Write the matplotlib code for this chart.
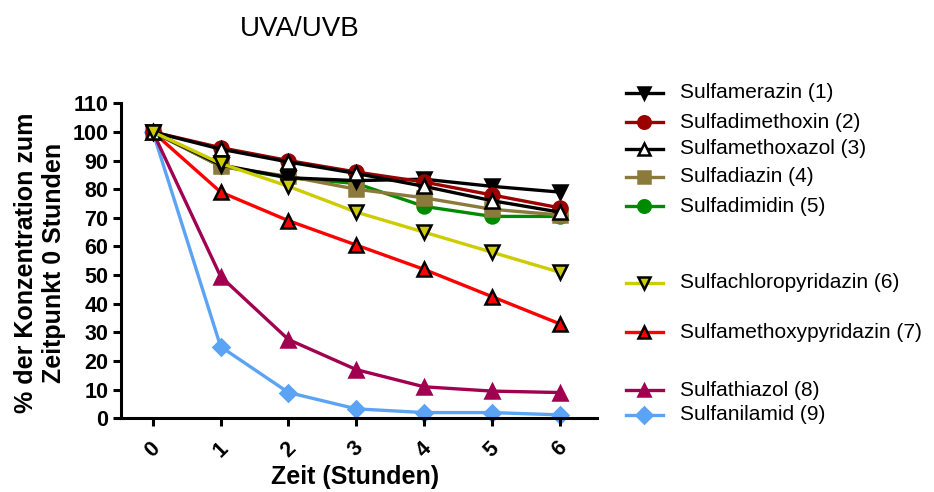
import numpy as np
import matplotlib
matplotlib.use('Agg')
import matplotlib.pyplot as plt

plt.rcParams['font.family'] = ['Liberation Sans', 'DejaVu Sans']
plt.rcParams['axes.unicode_minus'] = False

# Zeitpunkte (Stunden)
zeit = [0, 1, 2, 3, 4, 5, 6]

# % der Ausgangskonzentration je Sulfonamid
sulfamerazin = [100, 88.5, 84, 83, 83.5, 81, 79]
sulfadimethoxin = [100, 94.5, 90, 86, 82.5, 78, 73.5]
sulfamethoxazol = [100, 94, 89.5, 85.5, 81, 76, 72]
sulfadiazin = [100, 88, 84.5, 80, 77, 73, 71]
sulfadimidin = [100, 88, 84, 82, 74, 70.5, 70.5]
sulfachloropyridazin = [100, 89, 81, 72, 65, 58, 51]
sulfamethoxypyridazin = [100, 79, 69, 60.5, 52, 42.5, 33]
sulfathiazol = [100, 49.5, 27.5, 17, 11, 9.5, 9]
sulfanilamid = [100, 25, 9, 3.3, 2, 2, 1.2]

y_ticks = list(range(0, 111, 10))

# name, werte, linienfarbe, marker, füllung, rand, zorder
serien = [
    ('Sulfamerazin (1)', sulfamerazin, 'black', 'v', 'black', 'black', 6),
    ('Sulfadimethoxin (2)', sulfadimethoxin, '#9B0000', 'o', '#9B0000', '#9B0000', 7),
    ('Sulfamethoxazol (3)', sulfamethoxazol, 'black', '^', 'white', 'black', 8),
    ('Sulfadiazin (4)', sulfadiazin, '#8B7A3A', 's', '#8B7A3A', '#8B7A3A', 5),
    ('Sulfadimidin (5)', sulfadimidin, '#008A00', 'o', '#008A00', '#008A00', 4),
    ('Sulfachloropyridazin (6)', sulfachloropyridazin, '#CCCC00', 'v', '#CCCC00', 'black', 9),
    ('Sulfamethoxypyridazin (7)', sulfamethoxypyridazin, '#FF0000', '^', '#FF0000', 'black', 3),
    ('Sulfathiazol (8)', sulfathiazol, '#A0004F', '^', '#A0004F', '#A0004F', 2),
    ('Sulfanilamid (9)', sulfanilamid, '#5BA4F5', 'D', '#5BA4F5', '#5BA4F5', 1),
]

fig = plt.figure(figsize=(9.34, 4.92), dpi=100)
ax = fig.add_axes([121 / 934, 1 - 418.3 / 492, 476 / 934, 315 / 492])

for name, werte, farbe, mk, fc, ec, z in serien:
    ms = 8 if mk == 'D' else 10
    ax.plot(zeit, werte, color=farbe, linewidth=2.4, marker=mk, markersize=ms,
            markerfacecolor=fc, markeredgecolor=ec, markeredgewidth=1.8,
            zorder=z, clip_on=False)

ax.set_xlim(-0.47, 6.55)
ax.set_ylim(0, 110)
ax.set_xticks(zeit)
ax.set_yticks(y_ticks)
ax.set_xticklabels([str(t) for t in zeit], rotation=45, ha='center',
                   fontsize=15.5, fontweight='bold')
ax.set_yticklabels([str(t) for t in y_ticks], fontsize=15.5, fontweight='bold')
for s in ['top', 'right']:
    ax.spines[s].set_visible(False)
for s in ['left', 'bottom']:
    ax.spines[s].set_linewidth(2.2)
ax.tick_params(axis='both', width=2.2, length=6, pad=3)
ax.tick_params(axis='x', pad=8)

fig.text(300 / 934, 1 - 29 / 492, 'UVA/UVB', ha='center', va='center', fontsize=20)
fig.text(355 / 934, 1 - 477 / 492, 'Zeit (Stunden)', ha='center', va='center',
         fontsize=18, fontweight='bold')
fig.text(40 / 934, 1 - 263 / 492, '% der Konzentration zum\nZeitpunkt 0 Stunden',
         ha='center', va='center', rotation=90, fontsize=18, fontweight='bold',
         multialignment='center', linespacing=1.25)

# Legende rechts, in Pixelkoordinaten
lax = fig.add_axes([0, 0, 1, 1])
lax.set_xlim(0, 934)
lax.set_ylim(492, 0)
lax.axis('off')
zeilen_y = [93, 122, 149, 177, 206, 283, 332, 390, 415]
for (name, werte, farbe, mk, fc, ec, z), yy in zip(serien, zeilen_y):
    lax.plot([626, 663], [yy, yy], color=farbe, linewidth=2.4)
    lax.plot([644], [yy], marker=mk, markersize=9 if mk != 'D' else 8,
             markerfacecolor=fc, markeredgecolor=ec, markeredgewidth=1.8,
             color=farbe, linestyle='none')
    lax.text(680, yy, name, ha='left', va='center', fontsize=15)

plt.savefig('out.png', dpi=100)
